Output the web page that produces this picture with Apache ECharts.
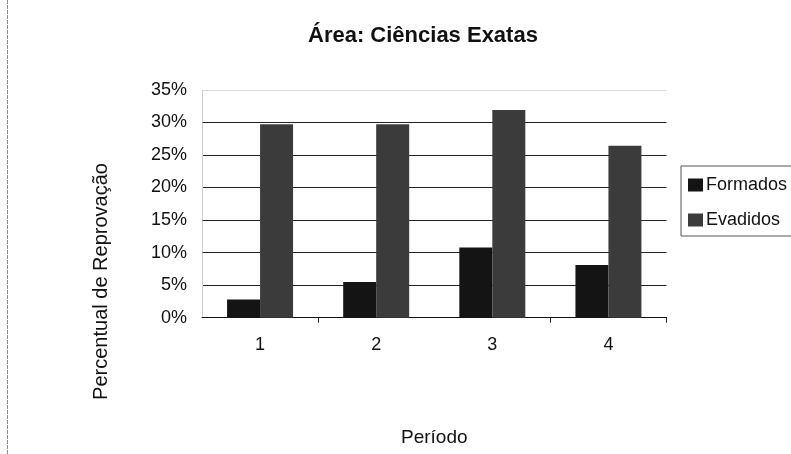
<!DOCTYPE html>
<html>
<head>
<meta charset="utf-8">
<title>Área: Ciências Exatas</title>
<script src="https://cdn.jsdelivr.net/npm/echarts@6/dist/echarts.min.js"></script>
<style>
  html, body { margin: 0; padding: 0; background: #fff; }
  #chart { width: 791px; height: 454px; }
</style>
</head>
<body>
<div id="chart"></div>
<script>
// Periods on the x axis
const periodos = ['1', '2', '3', '4'];
// Percentages per period
const formados = [2.8, 5.5, 10.8, 8.1];
const evadidos = [29.7, 29.7, 31.9, 26.4];
// Value axis range (percent)
const yMin = 0;
const yMax = 35;
const yStep = 5;

const FONT = '"Liberation Sans", Arial, sans-serif';
const chart = echarts.init(document.getElementById('chart'), null, { renderer: 'canvas' });

chart.setOption({
  backgroundColor: '#ffffff',
  animation: false,
  textStyle: { fontFamily: FONT, color: '#111' },
  title: {
    text: 'Área: Ciências Exatas',
    left: 308,
    top: 25,
    padding: 0,
    textStyle: { fontFamily: FONT, fontSize: 22, fontWeight: 'bold', color: '#111' }
  },
  legend: {
    orient: 'vertical',
    left: 681,
    top: 166,
    padding: [10, 12, 7, 7],
    itemGap: 17,
    itemWidth: 15,
    itemHeight: 13,
    icon: 'rect',
    borderColor: '#555',
    borderWidth: 1,
    textStyle: { fontFamily: FONT, fontSize: 18, color: '#111', padding: [0, 0, 0, -2] },
    data: ['Formados', 'Evadidos']
  },
  grid: { left: 202, right: 124.5, top: 89.8, bottom: 136.3 },
  xAxis: {
    type: 'category',
    data: periodos,
    name: 'Período',
    nameLocation: 'middle',
    nameGap: 111,
    nameTextStyle: { fontFamily: FONT, fontSize: 19, color: '#111' },
    axisLine: { lineStyle: { color: '#111', width: 1 } },
    axisTick: {
      show: true,
      alignWithLabel: false,
      length: 5,
      interval: function (index) { return index === 1 || index === 3; },
      lineStyle: { color: '#222' }
    },
    axisLabel: { fontFamily: FONT, fontSize: 18, color: '#111', margin: 18 }
  },
  yAxis: {
    type: 'value',
    min: yMin,
    max: yMax,
    interval: yStep,
    axisLine: { show: true, lineStyle: { color: '#c8c8c8', type: 'dotted' } },
    axisTick: { show: false },
    axisLabel: { fontFamily: FONT, fontSize: 18, color: '#111', margin: 15, formatter: '{value}%' },
    splitLine: {
      show: true,
      lineStyle: {
        width: 1,
        color: ['#222', '#222', '#222', '#222', '#222', '#222', '#222', '#d8d8d8']
      }
    }
  },
  graphic: [
    {
      type: 'line',
      shape: { x1: 7.5, y1: 0, x2: 7.5, y2: 454 },
      style: { stroke: '#8a8a8a', lineWidth: 1, lineDash: [4, 1] },
      silent: true
    },
    {
      type: 'text',
      x: 101.5,
      y: 281.5,
      rotation: Math.PI / 2,
      style: {
        text: 'Percentual de Reprovação',
        font: '20px ' + FONT,
        fill: '#111',
        align: 'center',
        verticalAlign: 'middle'
      },
      silent: true
    }
  ],
  series: [
    {
      name: 'Formados',
      type: 'bar',
      data: formados,
      barWidth: 33,
      barGap: '0%',
      itemStyle: { color: '#141414' }
    },
    {
      name: 'Evadidos',
      type: 'bar',
      data: evadidos,
      barWidth: 33,
      barGap: '0%',
      itemStyle: { color: '#3b3b3b' }
    }
  ]
});
</script>
</body>
</html>
